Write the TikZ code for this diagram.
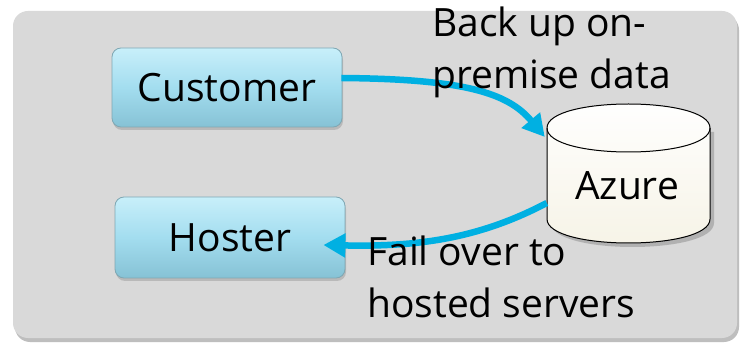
\documentclass[tikz,border=0pt]{standalone}
\usepackage{fontspec}
\setmainfont{Open Sans}
\usetikzlibrary{arrows.meta,calc,shadows}
\definecolor{panel}{HTML}{D9D9D9}
\definecolor{panelshadow}{HTML}{BEBEBE}
\definecolor{boxtop}{HTML}{C8EFFA}
\definecolor{boxmid}{HTML}{A3DDEF}
\definecolor{boxbot}{HTML}{86C2D5}
\definecolor{boxline}{HTML}{7FA7B3}
\definecolor{arrowcol}{HTML}{00B0E2}
\definecolor{cyltop}{HTML}{FFFFFF}
\definecolor{cylbot}{HTML}{F6F3E6}
\tikzset{
  bigtext/.style={font=\fontsize{39}{52}\selectfont},
  boxnode/.style={draw=boxline, line width=0.8pt, rounded corners=9pt,
    top color=boxtop, bottom color=boxbot, middle color=boxmid,
    drop shadow={shadow xshift=1pt, shadow yshift=-3pt, opacity=0.35},
    inner sep=0pt, bigtext},
  flowarrow/.style={draw=arrowcol, line width=6.5pt,
    -{Triangle[length=22pt,width=23pt]}},
  labeltext/.style={bigtext, inner sep=0pt, align=left},
}
\begin{document}
\begin{tikzpicture}[x=1pt,y=-1pt]
\useasboundingbox (0,0) rectangle (744,347);
\fill[white] (0,0) rectangle (744,347);
% panel
\fill[panelshadow, rounded corners=15pt] (15,15) rectangle (739,342);
\fill[panel, rounded corners=15pt] (13,11) rectangle (737,338);

% boxes
\node[boxnode, minimum width=230pt, minimum height=79pt] (cust) at (227,87.5) {Customer};
\node[boxnode, minimum width=230pt, minimum height=81pt] (host) at (230,237.5) {Hoster};

% cylinder
\path[fill=black, opacity=0.18] (551,132) -- (551,223) .. controls (551,255) and (714,255) .. (714,223) -- (714,132) -- cycle;
\path[top color=cyltop, bottom color=cylbot, draw=black, line width=1pt]
  (547,128) -- (547,219) .. controls (547,251) and (710,251) .. (710,219)
  -- (710,128) .. controls (710,96) and (547,96) .. (547,128) -- cycle;
\draw[line width=1pt] (547,128) .. controls (547,160) and (710,160) .. (710,128);
\node[inner sep=0pt, minimum width=163pt, minimum height=139pt] (azure) at (628.5,173.5) {};
\node[bigtext, inner sep=0pt, anchor=base] (azuretext) at (627,200) {Azure};

% arrows
\draw[flowarrow] ($(cust.east)+(-1,-9.5)$) .. controls (465,79) and (508,93) .. ($(azure.west)+(-2,-36.5)$);
\draw[flowarrow] ($(azure.west)+(0,29.5)$) .. controls (480,238) and (420,247) .. ($(host.east)+(-22,7.5)$);

% labels
\node[labeltext, anchor=base west] (backup) at (432,89) {Back up on-\\premise data};
\node[labeltext, anchor=base west] (failover) at (367,317) {Fail over to\\hosted servers};
\end{tikzpicture}
\end{document}
